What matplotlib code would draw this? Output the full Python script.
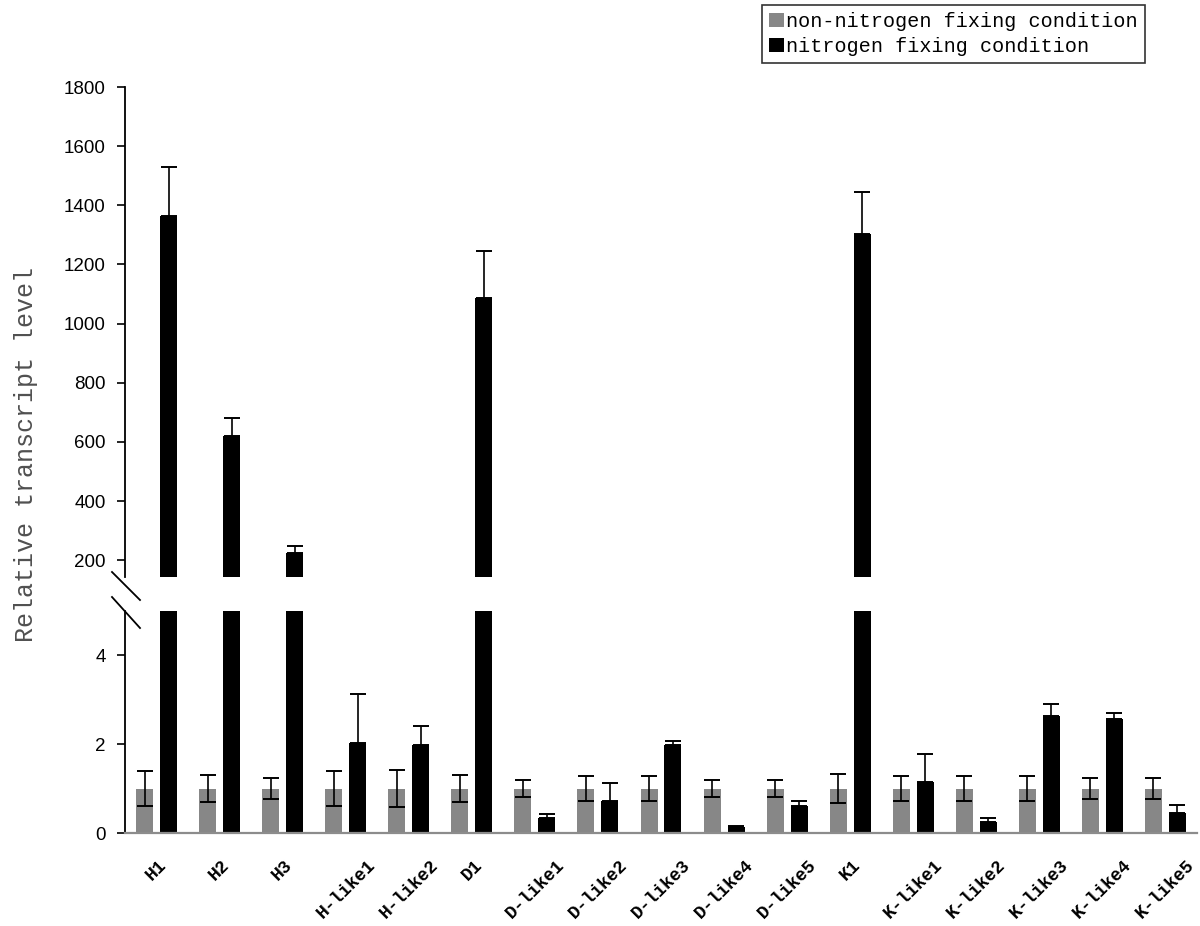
import matplotlib
matplotlib.use("Agg")
import matplotlib.pyplot as plt
import numpy as np
from matplotlib.lines import Line2D
from matplotlib.patches import Patch

genes = ["H1", "H2", "H3", "H-like1", "H-like2", "D1", "D-like1", "D-like2",
         "D-like3", "D-like4", "D-like5", "K1", "K-like1", "K-like2",
         "K-like3", "K-like4", "K-like5"]
non_fixing = [1, 1, 1, 1, 1, 1, 1, 1, 1, 1, 1, 1, 1, 1, 1, 1, 1]
non_fixing_err = [0.39, 0.31, 0.24, 0.39, 0.42, 0.31, 0.20, 0.28, 0.28, 0.20,
                  0.20, 0.32, 0.28, 0.28, 0.28, 0.24, 0.24]
fixing = [1364, 619, 223, 2.03, 1.99, 1085, 0.34, 0.71, 1.99, 0.13, 0.61,
          1302, 1.14, 0.25, 2.64, 2.57, 0.45]
fixing_err = [166, 60, 25, 1.09, 0.41, 161, 0.08, 0.42, 0.09, 0.02, 0.10,
              144, 0.64, 0.09, 0.26, 0.14, 0.18]
top_ticks = [200, 400, 600, 800, 1000, 1200, 1400, 1600, 1800]
bottom_ticks = [0, 2, 4]

W, H = 1200, 926
fig = plt.figure(figsize=(12, 9.26), dpi=100)

def fx(px):
    return px / W

def fy(py):
    return 1 - py / H

left, right = fx(125), fx(1197)
ax_top = fig.add_axes([left, fy(577), right - left, fy(87) - fy(577)])
ax_bot = fig.add_axes([left, fy(833), right - left, fy(611) - fy(833)])

x = np.arange(len(genes))
off = 0.19
w = 0.27
gray = "#878787"
err_kw = dict(ecolor="black", elinewidth=1.2, capsize=6.0, capthick=1.4)
fixing_yerr = [np.zeros(len(fixing)), fixing_err]

for ax in (ax_top, ax_bot):
    ax.bar(x - off, non_fixing, w, color=gray, yerr=non_fixing_err,
           error_kw=err_kw, zorder=2)
    ax.bar(x + off, fixing, w, color="black", yerr=fixing_yerr,
           error_kw=err_kw, zorder=2)
    ax.set_xlim(-0.5, len(genes) - 0.5)
    for s in ("top", "right"):
        ax.spines[s].set_visible(False)
    ax.spines["left"].set_linewidth(1.3)
    ax.tick_params(axis="y", direction="out", length=6, width=1.2, pad=8,
                   labelsize=13.5)

ax_top.set_ylim(143, 1800)
ax_top.set_yticks(top_ticks)
ax_top.spines["bottom"].set_visible(False)
ax_top.set_xticks([])

ax_bot.set_ylim(0, 5.0)
ax_bot.set_yticks(bottom_ticks)
ax_bot.spines["bottom"].set_color("#8c8c8c")
ax_bot.spines["bottom"].set_linewidth(1.6)
ax_bot.set_xticks(x)
ax_bot.set_xticklabels(genes, rotation=45, ha="center", va="top",
                       fontfamily="Liberation Mono", fontsize=13,
                       fontweight="bold")
ax_bot.tick_params(axis="x", length=0, pad=17)

for a in (ax_top, ax_bot):
    for lab in a.get_yticklabels():
        lab.set_fontfamily("Liberation Sans")
        lab.set_fontsize(13.5)

# break marks
for (x0, y0, x1, y1) in [(112, 572, 140, 600), (112, 597, 140, 628)]:
    fig.add_artist(Line2D([fx(x0), fx(x1)], [fy(y0), fy(y1)],
                          color="black", lw=1.3))

fig.text(fx(26), fy(455), "Relative transcript level", rotation=90,
         ha="center", va="center", fontsize=18, color="#505050",
         fontfamily="Liberation Mono")

handles = [Patch(facecolor=gray, edgecolor="none"),
           Patch(facecolor="black", edgecolor="none")]
leg = fig.legend(handles, ["non-nitrogen fixing condition",
                           "nitrogen fixing condition"],
                 loc="upper left", bbox_to_anchor=(fx(762), fy(5)),
                 prop={"family": "Liberation Mono", "size": 14.5},
                 frameon=True, fancybox=False, handlelength=0.75,
                 handleheight=0.75, handletextpad=0.1, borderpad=0.35,
                 labelspacing=0.3, borderaxespad=0)
leg.get_frame().set_edgecolor("black")
leg.get_frame().set_linewidth(1.2)

fig.savefig("out.png", dpi=100)
